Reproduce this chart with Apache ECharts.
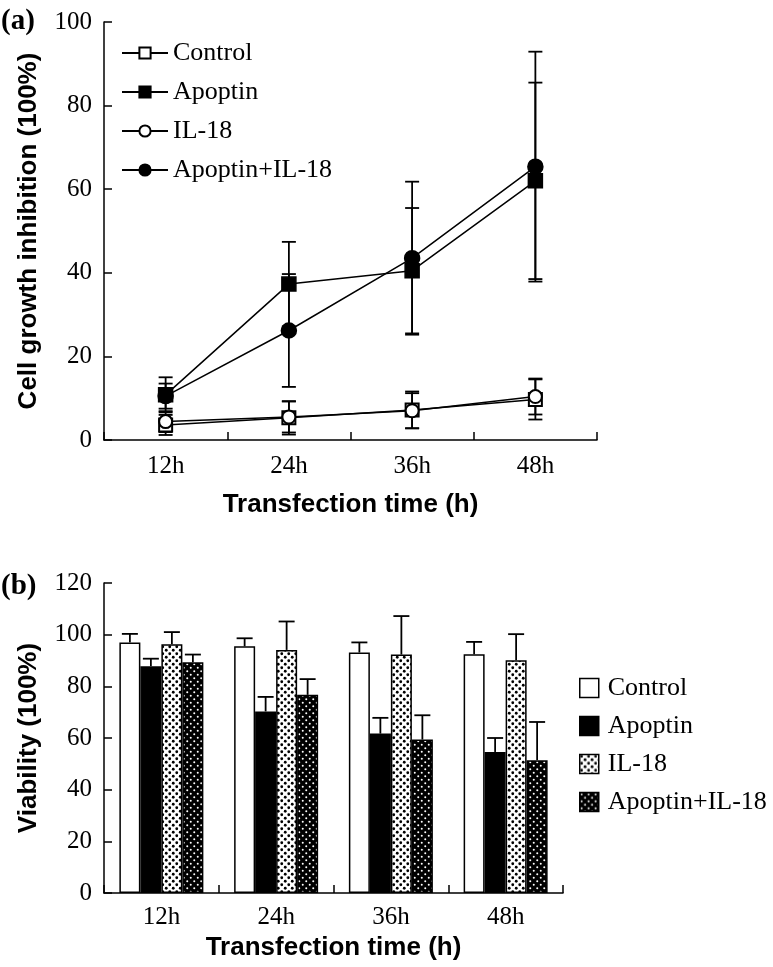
<!DOCTYPE html>
<html>
<head>
<meta charset="utf-8">
<script src="https://cdn.jsdelivr.net/npm/echarts@6/dist/echarts.min.js"></script>
<style>
html,body{margin:0;padding:0;background:#fff;}
#a{position:absolute;left:0;top:0;width:773px;height:540px;}
#b{position:absolute;left:0;top:540px;width:773px;height:427px;}
</style>
</head>
<body>
<div id="a"></div>
<div id="b"></div>
<script>
// ---- data ----
const categories = ['12h', '24h', '36h', '48h'];
const seriesNames = ['Control', 'Apoptin', 'IL-18', 'Apoptin+IL-18'];

// panel (a): cell growth inhibition (%)
const inhControl = [3.6, 5.3, 7.2, 9.7];
const inhControlErr = [2.4, 4.0, 4.4, 4.8];
const inhApoptin = [10.8, 37.3, 40.5, 62.0];
const inhApoptinErr = [4.2, 10.1, 15.0, 23.5];
const inhIL18 = [4.4, 5.5, 7.0, 10.4];
const inhIL18Err = [2.5, 3.7, 4.2, 4.3];
const inhCombo = [10.5, 26.2, 43.5, 65.4];
const inhComboErr = [3.0, 13.5, 18.3, 27.5];

// panel (b): viability (%)
const viaControl = [97.0, 95.5, 93.1, 92.4];
const viaControlErr = [3.3, 3.1, 3.9, 4.8];
const viaApoptin = [87.8, 70.3, 61.7, 54.6];
const viaApoptinErr = [2.9, 5.6, 6.1, 5.4];
const viaIL18 = [96.3, 94.1, 92.3, 90.1];
const viaIL18Err = [4.7, 11.0, 14.9, 10.1];
const viaCombo = [89.3, 76.7, 59.4, 51.4];
const viaComboErr = [3.0, 6.1, 9.4, 14.8];

const yTicksA = {min: 0, max: 100, interval: 20};
const yTicksB = {min: 0, max: 120, interval: 20};

// ---- styles ----
const SERIF = '"Liberation Serif", "Times New Roman", serif';
const SANS = '"Liberation Sans", Arial, sans-serif';

function makePattern(bg, fg, r) {
  const s = 7;
  const c = document.createElement('canvas');
  c.width = s; c.height = s;
  const ctx = c.getContext('2d');
  ctx.fillStyle = bg; ctx.fillRect(0, 0, s, s);
  ctx.fillStyle = fg;
  [[1.75, 1.75], [5.25, 5.25]].forEach(p => {
    ctx.beginPath(); ctx.arc(p[0], p[1], r, 0, Math.PI * 2); ctx.fill();
  });
  return {image: c, repeat: 'repeat'};
}

function axisCommon() {
  return {
    axisLine: {show: true, lineStyle: {color: '#000', width: 1.5}},
    axisTick: {show: true, inside: true, length: 8, lineStyle: {color: '#000', width: 1.5}},
    splitLine: {show: false},
    nameTextStyle: {color: '#000', fontFamily: SANS, fontSize: 26, fontWeight: 'bold'}
  };
}

// ---- panel (a) ----
const chartA = echarts.init(document.getElementById('a'));
function errSeriesA(vals, errs) {
  return {
    type: 'custom',
    z: 1,
    silent: true,
    data: vals.map((v, i) => [i, v, errs[i]]),
    renderItem: function (params, api) {
      const i = api.value(0), v = api.value(1), e = api.value(2);
      const hi = api.coord([i, v + e]);
      const lo = api.coord([i, v - e]);
      const x = hi[0], hw = 7;
      const st = {stroke: '#000', lineWidth: 1.8};
      return {type: 'group', children: [
        {type: 'line', shape: {x1: x, y1: hi[1], x2: x, y2: lo[1]}, style: st},
        {type: 'line', shape: {x1: x - hw, y1: hi[1], x2: x + hw, y2: hi[1]}, style: st},
        {type: 'line', shape: {x1: x - hw, y1: lo[1], x2: x + hw, y2: lo[1]}, style: st}
      ]};
    }
  };
}
function lineSeries(name, vals, symbol, size) {
  return {
    name: name, type: 'line', data: vals, z: 3,
    symbol: symbol, symbolSize: size,
    showAllSymbol: true,
    lineStyle: {color: '#000', width: 1.5},
    itemStyle: {color: '#000', borderColor: '#000', borderWidth: 1.5},
    emphasis: {disabled: true}
  };
}
chartA.setOption({
  animation: false,
  grid: {left: 104, top: 22, width: 493, height: 418},
  legend: {
    left: 116, top: 35, orient: 'vertical', itemGap: 13,
    itemWidth: 46, itemHeight: 14,
    textStyle: {color: '#000', fontFamily: SERIF, fontSize: 26, padding: [0, 0, 0, 0]},
    data: seriesNames
  },
  xAxis: Object.assign(axisCommon(), {
    type: 'category', data: categories, boundaryGap: true,
    name: 'Transfection time (h)', nameLocation: 'middle', nameGap: 52,
    axisLabel: {color: '#000', fontFamily: SERIF, fontSize: 25, margin: 14}
  }),
  yAxis: Object.assign(axisCommon(), {
    type: 'value', min: yTicksA.min, max: yTicksA.max, interval: yTicksA.interval,
    name: 'Cell growth inhibition (100%)', nameLocation: 'middle', nameGap: 62,
    axisLabel: {color: '#000', fontFamily: SERIF, fontSize: 25, margin: 12}
  }),
  graphic: [{type: 'text', left: 1, top: 7, style: {text: '(a)', font: 'bold 29px ' + SERIF, fill: '#000'}}],
  series: [
    errSeriesA(inhControl, inhControlErr),
    errSeriesA(inhApoptin, inhApoptinErr),
    errSeriesA(inhIL18, inhIL18Err),
    errSeriesA(inhCombo, inhComboErr),
    lineSeries('Control', inhControl, 'emptyRect', 13),
    lineSeries('Apoptin', inhApoptin, 'rect', 14),
    lineSeries('IL-18', inhIL18, 'emptyCircle', 13),
    lineSeries('Apoptin+IL-18', inhCombo, 'circle', 15)
  ]
});

// ---- panel (b) ----
const chartB = echarts.init(document.getElementById('b'));
const BAR_W = 21;
const barFills = ['#fff', '#000', makePattern('#fff', '#000', 1.4), makePattern('#000', '#fff', 1.0)];
const viaVals = [viaControl, viaApoptin, viaIL18, viaCombo];
const viaErrs = [viaControlErr, viaApoptinErr, viaIL18Err, viaComboErr];

function barSeries(k) {
  return {
    name: seriesNames[k], type: 'bar', data: viaVals[k], barWidth: BAR_W, barGap: '0%', z: 2,
    itemStyle: {color: barFills[k], borderColor: '#000', borderWidth: 1.5},
    emphasis: {disabled: true}
  };
}
function errSeriesB(k) {
  return {
    type: 'custom', z: 1, silent: true,
    data: viaVals[k].map((v, i) => [i, v, viaErrs[k][i]]),
    renderItem: function (params, api) {
      const i = api.value(0), v = api.value(1), e = api.value(2);
      const top = api.coord([i, v]);
      const hi = api.coord([i, v + e]);
      const x = top[0] + (k - 1.5) * BAR_W, hw = 8;
      const st = {stroke: '#000', lineWidth: 1.8};
      return {type: 'group', children: [
        {type: 'line', shape: {x1: x, y1: top[1], x2: x, y2: hi[1]}, style: st},
        {type: 'line', shape: {x1: x - hw, y1: hi[1], x2: x + hw, y2: hi[1]}, style: st}
      ]};
    }
  };
}
chartB.setOption({
  animation: false,
  grid: {left: 104, top: 43, width: 459, height: 310},
  legend: {
    left: 574, top: 130, orient: 'vertical', itemGap: 12,
    itemWidth: 19, itemHeight: 19, icon: 'rect',
    itemStyle: {borderColor: '#000', borderWidth: 1.5},
    textStyle: {color: '#000', fontFamily: SERIF, fontSize: 26, padding: [0, 0, 0, 4]},
    data: seriesNames
  },
  xAxis: Object.assign(axisCommon(), {
    type: 'category', data: categories, boundaryGap: true,
    name: 'Transfection time (h)', nameLocation: 'middle', nameGap: 42,
    axisLabel: {color: '#000', fontFamily: SERIF, fontSize: 25, margin: 12}
  }),
  yAxis: Object.assign(axisCommon(), {
    type: 'value', min: yTicksB.min, max: yTicksB.max, interval: yTicksB.interval,
    name: 'Viability (100%)', nameLocation: 'middle', nameGap: 62,
    axisLabel: {color: '#000', fontFamily: SERIF, fontSize: 25, margin: 12}
  }),
  graphic: [{type: 'text', left: 1, top: 32, style: {text: '(b)', font: 'bold 29px ' + SERIF, fill: '#000'}}],
  series: [
    errSeriesB(0), errSeriesB(1), errSeriesB(2), errSeriesB(3),
    barSeries(0), barSeries(1), barSeries(2), barSeries(3)
  ]
});
</script>
</body>
</html>
